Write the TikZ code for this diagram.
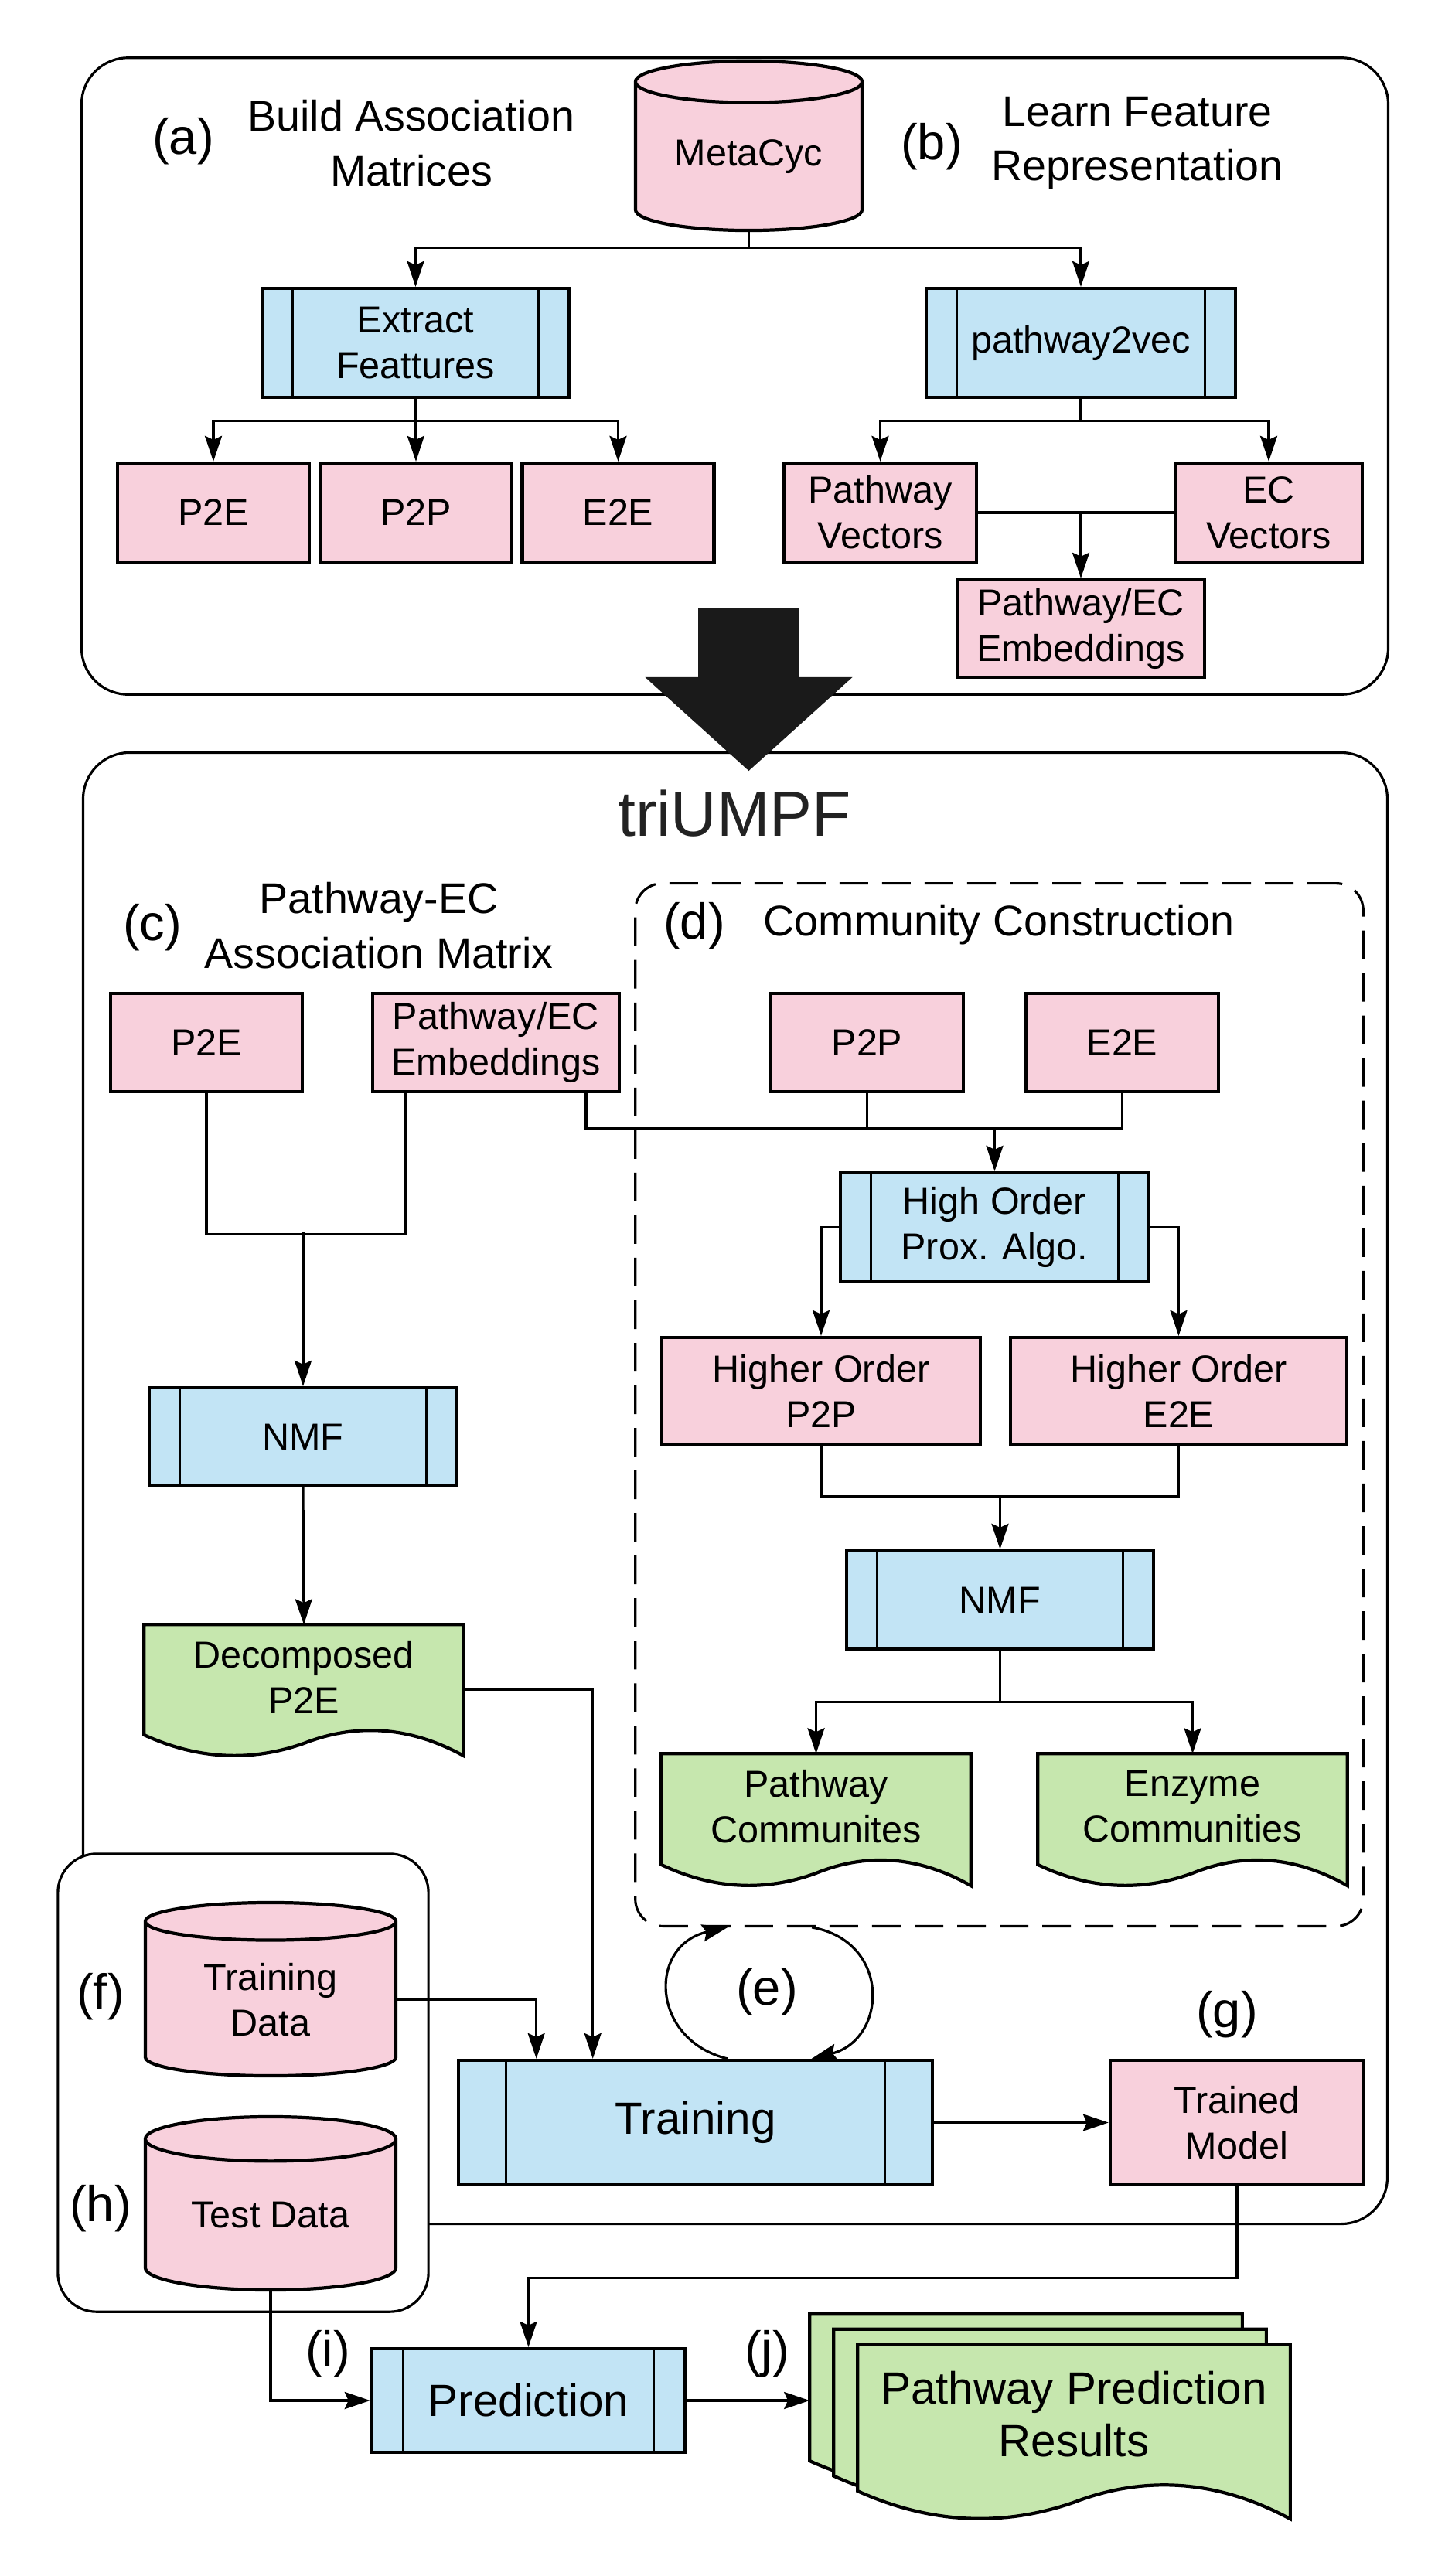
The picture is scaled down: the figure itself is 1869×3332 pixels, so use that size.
\documentclass[tikz,border=0pt]{standalone}
\usepackage{fontspec}
\setmainfont{Liberation Sans}
\usepackage{tikz}
\usetikzlibrary{arrows.meta, positioning, calc, shapes.geometric, backgrounds}

\definecolor{boxpink}{HTML}{F8D0DC}
\definecolor{boxblue}{HTML}{C2E4F5}
\definecolor{boxgreen}{HTML}{C6E7AE}
\definecolor{arrowdark}{HTML}{1A1A1A}
\definecolor{titlegray}{HTML}{222222}

\newcommand{\fsbox}{\fontsize{13.8pt}{16.8pt}\selectfont}
\newcommand{\fshead}{\fontsize{15.8pt}{20pt}\selectfont}
\newcommand{\fstag}{\fontsize{18.5pt}{22pt}\selectfont}
\newcommand{\fstitle}{\fontsize{23.4pt}{27pt}\selectfont}
\newcommand{\fsbig}{\fontsize{16.6pt}{19.3pt}\selectfont}

% document outline with wavy bottom, drawn behind the node #1
\newcommand{\docshape}[2]{%
  \draw[line width=1.2pt, fill=#2] let \p1=(#1.north west), \p2=(#1.south east),
    \n1={(\x2)-(\x1)}, \n2={1.25*((\y1)-(\y2))} in
    (\x1,\y1) -- (\x2,\y1) -- (\x2,{\y1-\n2})
    .. controls ({\x1+0.8333*\n1},{\y1-0.778*\n2}) and ({\x1+0.6667*\n1},{\y1-0.7463*\n2}) .. ({\x1+0.5*\n1},{\y1-0.905*\n2})
    .. controls ({\x1+0.3333*\n1},{\y1-1.0483*\n2}) and ({\x1+0.1667*\n1},{\y1-1.0267*\n2}) .. (\x1,{\y1-0.84*\n2})
    -- cycle;}

\begin{document}
\begin{tikzpicture}[x=0.01cm, y=-0.01cm,
    frame/.style={draw, line width=0.9pt, rounded corners=0.6cm, inner sep=0pt},
    pinkbox/.style={draw, fill=boxpink, line width=1.2pt, inner sep=0pt, align=center, font=\fsbox},
    procbox/.style={draw, fill=boxblue, line width=1.2pt, inner sep=0pt, align=center, font=\fsbox,
        path picture={
            \draw[line width=0.8pt] ($(path picture bounding box.north west)!0.1!(path picture bounding box.north east)$) -- ($(path picture bounding box.south west)!0.1!(path picture bounding box.south east)$);
            \draw[line width=0.8pt] ($(path picture bounding box.north east)!0.1!(path picture bounding box.north west)$) -- ($(path picture bounding box.south east)!0.1!(path picture bounding box.south west)$);
        }},
    dbstore/.style={cylinder, shape border rotate=90, aspect=0.28, draw, fill=boxpink, line width=1.2pt, inner sep=0pt, align=center, font=\fsbox},
    docbox/.style={inner sep=0pt, align=center, font=\fsbox},
    tag/.style={font=\fstag},
    heading/.style={font=\fshead, align=center},
    conn/.style={line width=0.9pt},
    arr/.style={conn, -{Stealth[length=3.3mm, width=2.2mm, inset=0.5mm]}},
    bigarrow/.style={draw=arrowdark, line width=1.31cm, -{Triangle[width=2.68cm, length=1.21cm, line width=0pt]}}
]
    \useasboundingbox (0,0) rectangle (1869,3332);

    % Frames
    \node[frame, minimum width=16.89cm, minimum height=8.23cm] (topbox) at (950.5,486.5) {};
    \node[frame, minimum width=16.86cm, minimum height=19.02cm] (umpf) at (951,1925) {};
    \node[frame, fill=white, rounded corners=0.5cm, minimum width=4.79cm, minimum height=5.92cm] (fhbox) at (314.5,2694) {};
    \node[draw, dashed, dash pattern=on 3.7mm off 1.8mm, line width=0.9pt, rounded corners=0.35cm, minimum width=9.41cm, minimum height=13.48cm] (comm) at (1292.5,1817) {};

    % (a) and (b): association matrices and feature representation
    \node[dbstore, minimum width=2.93cm, minimum height=2.19cm, anchor=shape center] (metacyc) at (968.5,188.5) {MetaCyc};
    \node[tag] (tagA) at (237,183) {(a)};
    \node[heading] (headA) at (532,185) {Build Association\\Matrices};
    \node[tag] (tagB) at (1205,190) {(b)};
    \node[heading] (headB) at (1471,185) {Learn Feature\\Representation};

    \node[procbox, minimum width=3.97cm, minimum height=1.41cm] (extract) at (537.5,443.5) {Extract\\Feattures};
    \node[procbox, minimum width=4cm, minimum height=1.41cm] (p2vec) at (1398,443.5) {pathway2vec};

    \node[pinkbox, minimum width=2.48cm, minimum height=1.28cm] (p2eA) at (276,663) {P2E};
    \node[pinkbox, minimum width=2.48cm, minimum height=1.28cm] (p2pA) at (538,663) {P2P};
    \node[pinkbox, minimum width=2.48cm, minimum height=1.28cm] (e2eA) at (799.5,663) {E2E};
    \node[pinkbox, minimum width=2.49cm, minimum height=1.28cm] (pwvec) at (1138.5,663) {Pathway\\Vectors};
    \node[pinkbox, minimum width=2.42cm, minimum height=1.28cm] (ecvec) at (1641,663) {EC\\Vectors};
    \node[pinkbox, minimum width=3.2cm, minimum height=1.26cm] (embA) at (1398,813) {Pathway/EC\\Embeddings};

    \draw[arr] (metacyc.south) -- ++(0,20) -| (extract.north);
    \draw[arr] (metacyc.south) -- ++(0,20) -| (p2vec.north);
    \draw[arr] (extract.south) -- ++(0,28) -| (p2eA.north);
    \draw[arr] (extract.south) -- (p2pA.north);
    \draw[arr] (extract.south) -- ++(0,28) -| (e2eA.north);
    \draw[arr] (p2vec.south) -- ++(0,28) -| (pwvec.north);
    \draw[arr] (p2vec.south) -- ++(0,28) -| (ecvec.north);
    \draw[conn] (pwvec.east) -- (ecvec.west);
    \draw[arr] (embA.north |- pwvec.east) -- (embA.north);

    \draw[bigarrow] (metacyc.south |- 0,786) -- (metacyc.south |- 0,997);

    % triUMPF
    \node[font=\fstitle, text=titlegray] (title) at (950,1052) {triUMPF};

    % (c) Pathway-EC association matrix
    \node[tag] (tagC) at (197,1200) {(c)};
    \node[heading] (headC) at (490,1197) {Pathway-EC\\Association Matrix};
    \node[pinkbox, minimum width=2.48cm, minimum height=1.27cm] (p2eC) at (267,1348.5) {P2E};
    \node[pinkbox, minimum width=3.19cm, minimum height=1.27cm] (embC) at (641.5,1348.5) {Pathway/EC\\Embeddings};
    \node[procbox, minimum width=3.98cm, minimum height=1.27cm] (nmfC) at (392,1858.5) {NMF};
    \node[docbox, minimum width=4.12cm, minimum height=1.344cm] (decomp) at (393,2169.2) {Decomposed\\P2E};

    % (d) community construction
    \node[tag] (tagD) at (898,1198) {(d)};
    \node[heading] (headD) at (1292,1196) {Community Construction};
    \node[pinkbox, minimum width=2.49cm, minimum height=1.27cm] (p2pD) at (1121.5,1348.5) {P2P};
    \node[pinkbox, minimum width=2.49cm, minimum height=1.27cm] (e2eD) at (1451.5,1348.5) {E2E};
    \node[procbox, minimum width=3.99cm, minimum height=1.41cm] (hop) at (1286.5,1587.5) {High Order\\Prox. Algo.};
    \node[pinkbox, minimum width=4.12cm, minimum height=1.38cm] (hoP2P) at (1062,1799) {Higher Order\\P2P};
    \node[pinkbox, minimum width=4.35cm, minimum height=1.38cm] (hoE2E) at (1524.5,1799) {Higher Order\\E2E};
    \node[procbox, minimum width=3.97cm, minimum height=1.27cm] (nmfD) at (1293.5,2069.5) {NMF};
    \node[docbox, minimum width=3.99cm, minimum height=1.352cm] (pwcom) at (1055.5,2336.6) {Pathway\\Communites};
    \node[docbox, minimum width=3.99cm, minimum height=1.352cm] (enzcom) at (1542.5,2336.6) {Enzyme\\Communities};

    \draw[conn] (p2eC.south) |- ($(embC.south)+(-116.5,182)$) -- ($(embC.south)+(-116.5,0)$);
    \draw[arr] (nmfC.north |- 0,1594) -- (nmfC.north);
    \draw[conn] ($(embC.south)+(116.5,0)$) |- (e2eD.south |- 0,1460) -- (e2eD.south);
    \draw[conn] (p2pD.south) -- (p2pD.south |- 0,1460);
    \draw[arr] (hop.north |- 0,1460) -- (hop.north);
    \draw[arr] (hop.west) -| (hoP2P.north);
    \draw[arr] (hop.east) -| (hoE2E.north);
    \draw[conn] (hoP2P.south) |- (hoE2E.south |- 0,1936) -- (hoE2E.south);
    \draw[arr] (nmfD.north |- 0,1936) -- (nmfD.north);
    \draw[arr] (nmfD.south) -- ++(0,66) -| (pwcom.north);
    \draw[arr] (nmfD.south) -- ++(0,66) -| (enzcom.north);
    \draw[arr] (nmfC.south) -- (decomp.north);

    % (e)-(h) training
    \node[dbstore, minimum width=3.24cm, minimum height=2.24cm, anchor=shape center] (trainData) at (350,2573) {Training\\Data};
    \node[dbstore, minimum width=3.24cm, minimum height=2.24cm, anchor=shape center] (testData) at (350,2850) {Test Data};
    \node[tag] (tagF) at (130,2583) {(f)};
    \node[tag] (tagH) at (130,2857) {(h)};
    \node[procbox, font=\fsbig, minimum width=6.13cm, minimum height=1.61cm] (training) at (899.5,2745.5) {Training};
    \node[pinkbox, minimum width=3.28cm, minimum height=1.61cm] (trained) at (1600,2745.5) {Trained\\Model};
    \node[tag] (tagE) at (992,2577) {(e)};
    \node[tag] (tagG) at (1587,2606) {(g)};

    \draw[arr] ([yshift=-0.16cm]decomp.east) -| ($(training.north west)+(176,0)$);
    \draw[arr] (trainData.east) -| ($(training.north west)+(103,0)$);
    \draw[arr] ($(training.north west)+(350,0)$) .. controls +(-100,-25) and +(-103,23) .. ($(comm.south west)+(121,0)$);
    \draw[arr] ($(comm.south west)+(230,0)$) .. controls +(103,18) and +(98,-25) .. ($(training.north west)+(459,0)$);
    \draw[arr] (training.east) -- (trained.west);

    % (i) and (j) prediction
    \node[procbox, font=\fsbig, minimum width=4.05cm, minimum height=1.34cm] (pred) at (683.5,3105) {Prediction};
    \node[tag] (tagI) at (424,3045) {(i)};
    \node[tag] (tagJ) at (992,3045) {(j)};
    \node[docbox, minimum width=5.58cm, minimum height=1.792cm] (res1) at (1327,3083.6) {};
    \node[docbox, minimum width=5.58cm, minimum height=1.792cm] (res2) at (1358,3103.1) {};
    \node[docbox, font=\fsbig, minimum width=5.58cm, minimum height=1.792cm] (res3) at (1389,3122.6) {Pathway Prediction\\Results};

    \draw[arr] (trained.south) -- ++(0,118) -| (pred.north);
    \draw[arr] (testData.south) |- (pred.west);
    \draw[arr] (pred.east) -- (pred.east -| res1.west);

    \begin{pgfonlayer}{background}
        \docshape{decomp}{boxgreen}
        \docshape{pwcom}{boxgreen}
        \docshape{enzcom}{boxgreen}
        \docshape{res1}{boxgreen}
        \docshape{res2}{boxgreen}
        \docshape{res3}{boxgreen}
    \end{pgfonlayer}
\end{tikzpicture}
\end{document}
